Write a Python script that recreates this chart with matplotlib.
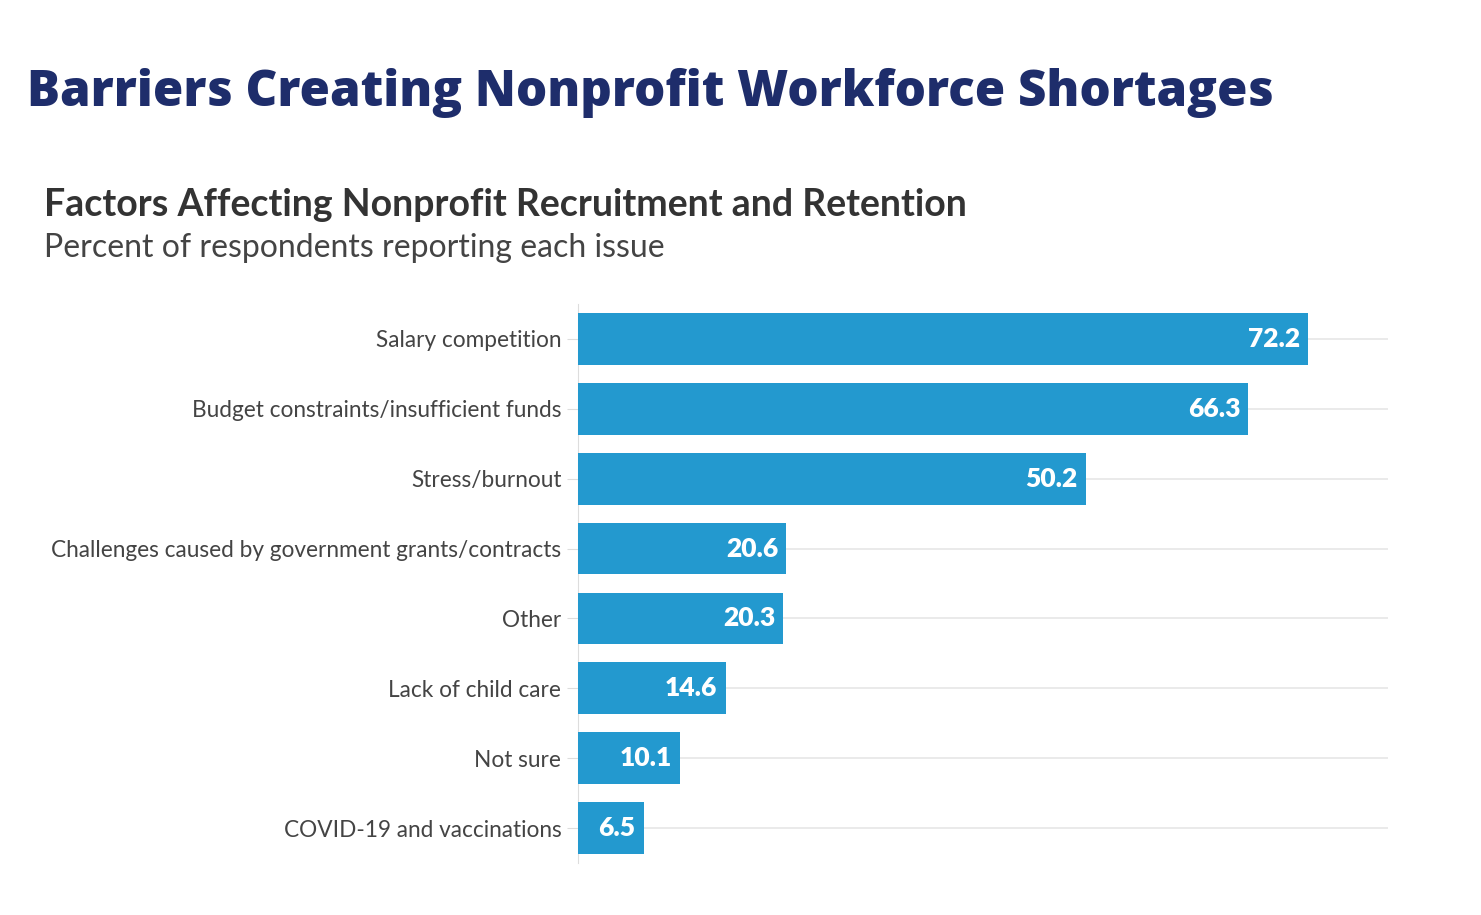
import matplotlib
matplotlib.use("Agg")
import matplotlib.pyplot as plt

categories = ["Salary competition", "Budget constraints/insufficient funds", "Stress/burnout",
              "Challenges caused by government grants/contracts", "Other", "Lack of child care",
              "Not sure", "COVID-19 and vaccinations"]
values = [72.2, 66.3, 50.2, 20.6, 20.3, 14.6, 10.1, 6.5]

fig = plt.figure(figsize=(14.81, 9.15), dpi=100)
ax = fig.add_axes([578/1481, 1-863/915, (1388-578)/1481, (863-304)/915])
y = list(range(len(categories)))
ax.barh(y, values, height=0.74, color="#2399cf", zorder=3)
ax.set_ylim(len(categories)-0.5, -0.5)
ax.set_xlim(0, 80.1)
ax.set_yticks(y)
ax.set_yticklabels(categories, fontsize=16.3, color="#444444", family="Lato")
ax.tick_params(axis="y", length=8, color="#dddddd", pad=4)
ax.set_xticks([])
for s in ["top", "right", "bottom"]:
    ax.spines[s].set_visible(False)
ax.spines["left"].set_color("#dddddd")
for yi in y:
    ax.axhline(yi, color="#e6e6e6", lw=1.2, zorder=1)
for yi, v in zip(y, values):
    ax.text(v - 0.8, yi, f"{v}", ha="right", va="center", color="white",
            fontsize=19, fontweight="heavy", family="Lato", zorder=4)

fig.text(27/1481, 1-93/915, "Barriers Creating Nonprofit Workforce Shortages", fontsize=35.5,
         fontweight="heavy", color="#1e2d6b", va="center", family="Open Sans")
fig.text(44/1481, 1-205/915, "Factors Affecting Nonprofit Recruitment and Retention", fontsize=27,
         fontweight="bold", color="#333333", va="center", family="Lato")
fig.text(44/1481, 1-248/915, "Percent of respondents reporting each issue", fontsize=23,
         color="#444444", va="center", family="Lato")
fig.savefig("out.png", dpi=100)
